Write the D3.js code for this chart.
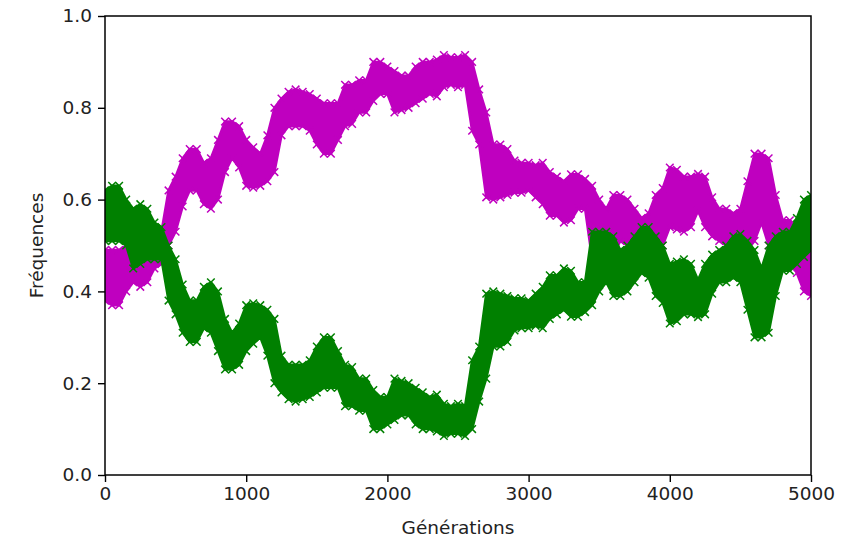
<!DOCTYPE html>
<html>
<head>
<meta charset="utf-8">
<script src="https://cdn.jsdelivr.net/npm/d3@7/dist/d3.min.js"></script>
<style>
  body { margin: 0; background: #fff; }
  svg { display: block; }
  text { font-family: "DejaVu Sans", sans-serif; fill: #222; }
</style>
</head>
<body>
<svg id="chart" width="854" height="545"></svg>
<script>
const generations = d3.range(0, 5001, 50);
const magentaLo = [0.38,0.37,0.37,0.40,0.42,0.41,0.42,0.45,0.46,0.50,0.53,0.585,0.62,0.62,0.59,0.58,0.60,0.66,0.69,0.67,0.63,0.626,0.63,0.64,0.66,0.74,0.76,0.76,0.76,0.75,0.72,0.70,0.70,0.73,0.76,0.765,0.79,0.79,0.815,0.83,0.83,0.79,0.795,0.80,0.81,0.82,0.83,0.825,0.845,0.85,0.845,0.85,0.75,0.72,0.605,0.60,0.605,0.61,0.615,0.615,0.62,0.605,0.59,0.565,0.565,0.55,0.555,0.58,0.58,0.47,0.47,0.47,0.48,0.51,0.50,0.48,0.46,0.46,0.48,0.50,0.54,0.535,0.53,0.54,0.575,0.54,0.52,0.51,0.50,0.48,0.475,0.49,0.51,0.55,0.50,0.48,0.47,0.47,0.44,0.40,0.39];
const magentaHi = [0.49,0.49,0.49,0.50,0.55,0.54,0.53,0.53,0.53,0.62,0.65,0.69,0.71,0.71,0.68,0.69,0.73,0.77,0.77,0.76,0.73,0.714,0.70,0.74,0.80,0.82,0.835,0.84,0.835,0.83,0.82,0.81,0.81,0.81,0.85,0.85,0.86,0.86,0.90,0.90,0.89,0.88,0.87,0.87,0.89,0.90,0.90,0.905,0.915,0.91,0.91,0.915,0.90,0.84,0.79,0.72,0.72,0.71,0.685,0.68,0.68,0.675,0.68,0.66,0.65,0.64,0.655,0.655,0.645,0.63,0.60,0.58,0.61,0.61,0.60,0.58,0.56,0.57,0.61,0.625,0.67,0.665,0.65,0.65,0.656,0.65,0.605,0.58,0.58,0.57,0.58,0.64,0.70,0.70,0.69,0.61,0.555,0.555,0.54,0.525,0.51];
const greenLo = [0.51,0.51,0.51,0.50,0.45,0.46,0.47,0.47,0.47,0.38,0.35,0.31,0.29,0.29,0.32,0.31,0.27,0.23,0.23,0.24,0.27,0.286,0.30,0.26,0.20,0.18,0.165,0.16,0.165,0.17,0.18,0.19,0.19,0.19,0.15,0.15,0.14,0.14,0.10,0.10,0.11,0.12,0.13,0.13,0.11,0.10,0.10,0.095,0.085,0.09,0.09,0.085,0.10,0.16,0.21,0.28,0.28,0.29,0.315,0.32,0.32,0.325,0.32,0.34,0.35,0.36,0.345,0.345,0.355,0.37,0.40,0.42,0.39,0.39,0.40,0.42,0.44,0.43,0.39,0.375,0.33,0.335,0.35,0.35,0.344,0.35,0.395,0.42,0.42,0.43,0.42,0.36,0.30,0.30,0.31,0.39,0.445,0.445,0.46,0.475,0.49];
const greenHi = [0.62,0.63,0.63,0.60,0.58,0.59,0.58,0.55,0.54,0.50,0.47,0.415,0.38,0.38,0.41,0.42,0.40,0.34,0.31,0.33,0.37,0.374,0.37,0.36,0.34,0.26,0.24,0.24,0.24,0.25,0.28,0.30,0.30,0.27,0.24,0.235,0.21,0.21,0.185,0.17,0.17,0.21,0.205,0.20,0.19,0.18,0.17,0.175,0.155,0.15,0.155,0.15,0.25,0.28,0.395,0.40,0.395,0.39,0.385,0.385,0.38,0.395,0.41,0.435,0.435,0.45,0.445,0.42,0.42,0.53,0.53,0.53,0.52,0.49,0.50,0.52,0.54,0.54,0.52,0.50,0.46,0.465,0.47,0.46,0.425,0.46,0.48,0.49,0.50,0.52,0.525,0.51,0.49,0.45,0.50,0.52,0.53,0.53,0.56,0.60,0.61];
const xTicks = [0,1000,2000,3000,4000,5000];
const yTicks = [0.0,0.2,0.4,0.6,0.8,1.0];
const seriesColors = ["#bf00bf", "#008000"];

const svg = d3.select("#chart");
const mL = 105, mR = 811, mT = 16, mB = 475;
const x = d3.scaleLinear().domain([0, 5000]).range([mL, mR]);
const y = d3.scaleLinear().domain([0, 1]).range([mB, mT]);

svg.append("defs").append("clipPath").attr("id", "clip")
  .append("rect").attr("x", mL).attr("y", mT).attr("width", mR - mL).attr("height", mB - mT);

const plot = svg.append("g").attr("clip-path", "url(#clip)");

function drawBand(lo, hi, color) {
  const data = generations.map((g, i) => ({g, lo: lo[i], hi: hi[i]}));
  const area = d3.area().x(d => x(d.g)).y0(d => y(d.lo)).y1(d => y(d.hi));
  plot.append("path").datum(data).attr("d", area)
    .attr("fill", color).attr("stroke", color).attr("stroke-width", 2.5).attr("stroke-linejoin", "round");
  const s = 3.8;
  const marks = [];
  data.forEach(d => { marks.push({g: d.g, v: d.lo}); marks.push({g: d.g, v: d.hi}); });
  plot.append("g").selectAll("path").data(marks).join("path")
    .attr("d", d => {
      const cx = x(d.g), cy = y(d.v);
      return `M${cx-s},${cy-s}L${cx+s},${cy+s}M${cx-s},${cy+s}L${cx+s},${cy-s}`;
    })
    .attr("stroke", color).attr("stroke-width", 1.5).attr("fill", "none");
}
drawBand(magentaLo, magentaHi, seriesColors[0]);
drawBand(greenLo, greenHi, seriesColors[1]);

const fs = "18.5px";
const xAxis = d3.axisBottom(x).tickValues(xTicks).tickFormat(d3.format("d")).tickSize(7).tickPadding(5);
const yAxis = d3.axisLeft(y).tickValues(yTicks).tickFormat(d3.format(".1f")).tickSize(7).tickPadding(6);
const gx = svg.append("g").attr("transform", `translate(0,${mB})`).call(xAxis);
const gy = svg.append("g").attr("transform", `translate(${mL},0)`).call(yAxis);
[gx, gy].forEach(g => {
  g.select(".domain").remove();
  g.selectAll(".tick line").attr("stroke", "#000").attr("stroke-width", 1.4);
  g.selectAll(".tick text").attr("font-size", fs).attr("fill", "#222").attr("font-family", "DejaVu Sans");
});

svg.append("rect").attr("x", mL).attr("y", mT).attr("width", mR - mL).attr("height", mB - mT)
  .attr("fill", "none").attr("stroke", "#000").attr("stroke-width", 1.5);

svg.append("text").attr("x", (mL + mR) / 2).attr("y", 534).attr("text-anchor", "middle")
  .attr("font-size", fs).text("Générations");
svg.append("text").attr("transform", `translate(43,${(mT + mB) / 2}) rotate(-90)`)
  .attr("text-anchor", "middle").attr("font-size", fs).text("Fréquences");
</script>
</body>
</html>
